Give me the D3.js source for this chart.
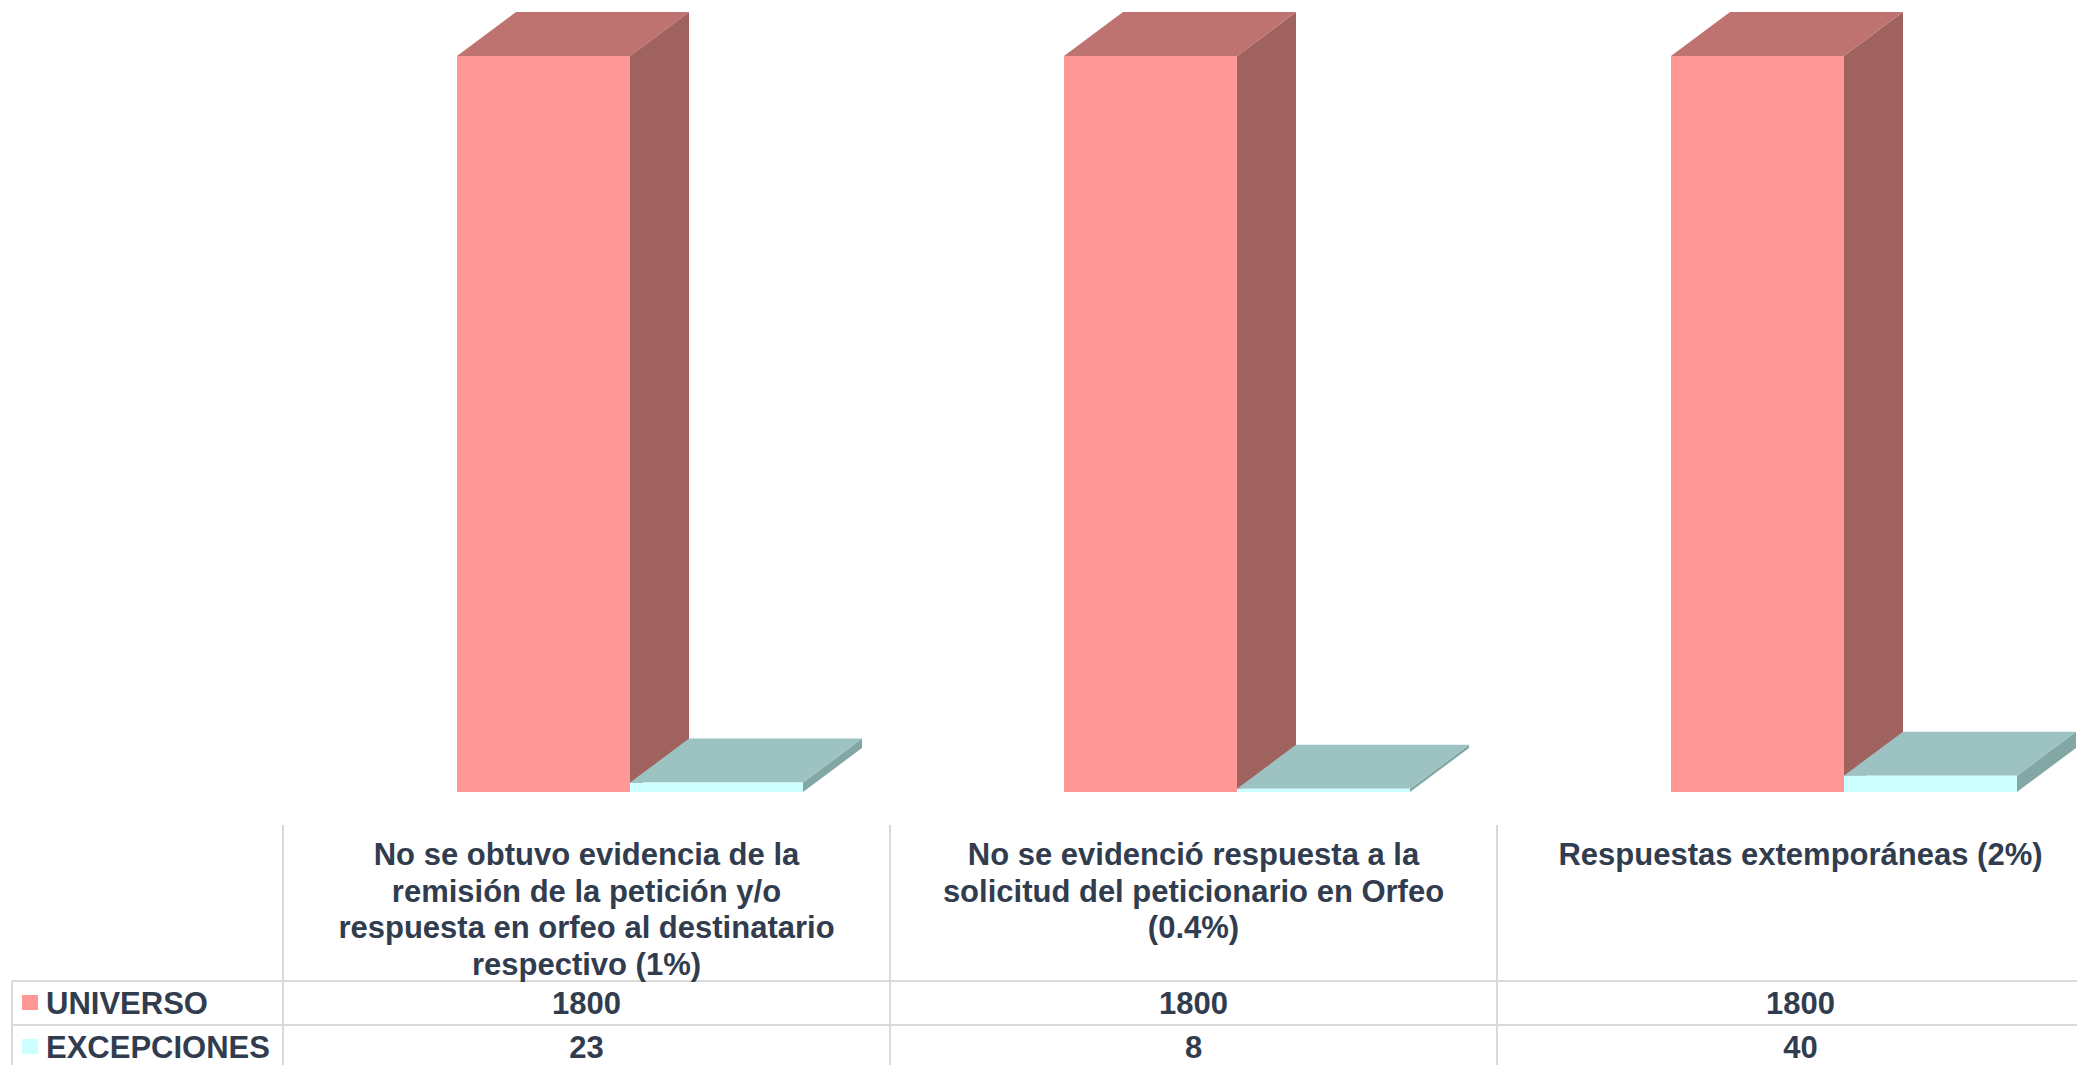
<!DOCTYPE html>
<html>
<head>
<meta charset="utf-8">
<script src="https://cdn.jsdelivr.net/npm/d3@7"></script>
<style>
  body { margin:0; background:#fff }
  svg  { display:block }
</style>
</head>
<body>
<div id="chart"></div>
<script>
var categories = [
    'No se obtuvo evidencia de la remisión de la petición y/o respuesta en orfeo al destinatario respectivo (1%)',
    'No se evidenció respuesta a la solicitud del peticionario en Orfeo (0.4%)',
    'Respuestas extemporáneas (2%)'
]
var seriesNames = ['UNIVERSO', 'EXCEPCIONES']
var universo    = [1800, 1800, 1800]
var excepciones = [23, 8, 40]

var W = 2077, H = 1065
var base = 792, topY = 56          // floor line and top of the 1800 bar
var depth = { dx:59, dy:44 }
var colW = 607, colX0 = 283
var textColor = '#313d4f'
var gridColor = '#d9d9d9'
var font = '"Liberation Sans", Arial, sans-serif'

var colors = {
    UNIVERSO:    { front:'#ff9797', top:'#bf7371', side:'#a0625f' },
    EXCEPCIONES: { front:'#ccffff', top:'#9cc3c2', side:'#82a7a5' }
}

var seriesData = [universo, excepciones]
var rows = seriesNames.map((name, si)=> ({ name:name, values:seriesData[si] }))

var svg = d3.select('#chart').append('svg')
    .attr('width', W)
    .attr('height', H)
    .style('font-family', font)

var x0 = d3.scaleBand()
    .domain(categories)
    .range([colX0, colX0 + colW*categories.length])

var x1 = d3.scaleBand()
    .domain(seriesNames)
    .range([174, 520])

var y = d3.scaleLinear()
    .domain([0, 1800])
    .range([base, topY])

// ---- 3d bars ---------------------------------------------------------------
var bars = []
categories.forEach((c, ci)=> {
    rows.forEach(r=> bars.push({ cat:c, series:r.name, v:r.values[ci] }))
})

var gBars = svg.append('g').attr('class', 'bars')
var bar = gBars.selectAll('g.bar')
    .data(bars)
    .join('g')
    .attr('class', 'bar')

function pts(a) { return a.map(p=> p.join(',')).join(' ') }

bar.each(function(d) {
    var g = d3.select(this)
    var xl = x0(d.cat) + x1(d.series)
    var w  = x1.bandwidth()
    var yt = y(d.v)
    var c  = colors[d.series]
    var dx = depth.dx, dy = depth.dy

    g.append('polygon')
        .attr('points', pts([[xl+w, yt], [xl+w+dx, yt-dy], [xl+w+dx, base-dy], [xl+w, base]]))
        .attr('fill', c.side)
    g.append('polygon')
        .attr('points', pts([[xl, yt], [xl+dx, yt-dy], [xl+w+dx, yt-dy], [xl+w, yt]]))
        .attr('fill', c.top)
    g.append('rect')
        .attr('x', xl)
        .attr('y', yt)
        .attr('width', w)
        .attr('height', base - yt)
        .attr('fill', c.front)
})

// ---- data table ------------------------------------------------------------
var rowTop = 981, rowH = 44, headTop = 825
var gTable = svg.append('g').attr('class', 'table')

// horizontal grid
d3.range(rows.length).forEach(i=> {
    gTable.append('line')
        .attr('x1', 12).attr('x2', W)
        .attr('y1', rowTop + i*rowH).attr('y2', rowTop + i*rowH)
        .attr('stroke', gridColor).attr('stroke-width', 2)
})
gTable.append('line')
    .attr('x1', 12).attr('x2', 12)
    .attr('y1', rowTop).attr('y2', H)
    .attr('stroke', gridColor).attr('stroke-width', 2)
categories.forEach(c=> {
    gTable.append('line')
        .attr('x1', x0(c)).attr('x2', x0(c))
        .attr('y1', headTop).attr('y2', H)
        .attr('stroke', gridColor).attr('stroke-width', 2)
})

// header labels, wrapped to the column
function wrap(textSel, width) {
    textSel.each(function() {
        var text = d3.select(this)
        var words = text.text().split(/\s+/)
        var xx = text.attr('x')
        text.text(null)
        var line = []
        var tspan = text.append('tspan').attr('x', xx).attr('dy', 0)
        words.forEach(wd=> {
            line.push(wd)
            tspan.text(line.join(' '))
            if (tspan.node().getComputedTextLength() > width && line.length > 1) {
                line.pop()
                tspan.text(line.join(' '))
                line = [wd]
                tspan = text.append('tspan').attr('x', xx).attr('dy', 36.7).text(wd)
            }
        })
    })
}

gTable.selectAll('text.head')
    .data(categories)
    .join('text')
    .attr('class', 'head')
    .attr('x', d=> x0(d) + colW/2)
    .attr('y', 865)
    .attr('text-anchor', 'middle')
    .attr('font-size', 31)
    .attr('font-weight', 'bold')
    .attr('fill', textColor)
    .text(d=> d)
    .call(wrap, 530)

// row labels with legend keys
rows.forEach((r, i)=> {
    var cy = rowTop + i*rowH + rowH/2
    gTable.append('rect')
        .attr('x', 22).attr('y', cy - 8)
        .attr('width', 16).attr('height', 15)
        .attr('fill', colors[r.name].front)
    gTable.append('text')
        .attr('x', 46).attr('y', cy + 11)
        .attr('font-size', 31)
        .attr('font-weight', 'bold')
        .attr('fill', textColor)
        .text(r.name)
    gTable.selectAll(null)
        .data(r.values)
        .join('text')
        .attr('x', (v, ci)=> x0(categories[ci]) + colW/2)
        .attr('y', cy + 11)
        .attr('text-anchor', 'middle')
        .attr('font-size', 31)
        .attr('font-weight', 'bold')
        .attr('fill', textColor)
        .text(v=> v)
})
</script>
</body>
</html>
